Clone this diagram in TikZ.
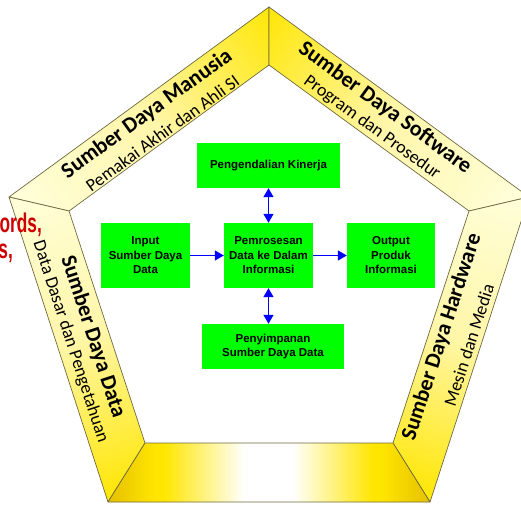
\documentclass[tikz,border=0pt]{standalone}
\usepackage{fontspec}
\setmainfont{Liberation Sans}
\newfontfamily\stripfont{Carlito}
\usetikzlibrary{arrows.meta}

\definecolor{boxgreen}{HTML}{00FF00}
\definecolor{bandyellow}{HTML}{FFE600}
\definecolor{bandlight}{HTML}{FFF6A8}
\definecolor{bandpale}{HTML}{FFFFDC}
\definecolor{bandgold}{HTML}{E6C000}
\definecolor{bandedge}{HTML}{6E6A40}
\definecolor{flowblue}{HTML}{0000FF}
\definecolor{titlered}{HTML}{D00000}

\tikzset{
  band/.style={draw=bandedge, line width=0.7pt, line join=round},
  sidefade/.style={bottom color=bandpale, top color=bandyellow, middle color=bandlight, shading angle=#1},
  striptitle/.style={font=\stripfont\fontsize{22}{24}\selectfont\bfseries, inner sep=0pt},
  stripsub/.style={font=\stripfont\fontsize{18}{20}\selectfont, inner sep=0pt},
  flowbox/.style={fill=boxgreen, draw=none, align=center, inner sep=0pt,
    font=\fontsize{11.5}{14.5}\selectfont\bfseries},
  flow/.style={draw=flowblue, line width=1.4pt, -{Triangle[length=9pt,width=10pt]}},
  flowboth/.style={draw=flowblue, line width=1.4pt, {Triangle[length=9pt,width=10pt]}-{Triangle[length=9pt,width=10pt]}},
  redtxt/.style={font=\fontsize{27}{28}\selectfont\bfseries, text=titlered, inner sep=0pt, xscale=0.64}
}

\begin{document}
\begin{tikzpicture}[x=1pt,y=1pt]
\useasboundingbox (0,0) rectangle (521,504);
\clip (0,0) rectangle (521,504);

% outer and inner corners of the pentagon frame
\coordinate (OT) at (269,497);
\coordinate (OL) at (9,307);
\coordinate (OBL) at (108,2);
\coordinate (OBR) at (430,2);
\coordinate (OR) at (529,307);
\coordinate (IT) at (269,439);
\coordinate (IL) at (69,293);
\coordinate (IBL) at (145,61);
\coordinate (IBR) at (393,61);
\coordinate (IR) at (469,293);

% upper left side
\begin{scope}
  \clip (OL) -- (OT) -- (IT) -- (IL) -- cycle;
  \shade[sidefade=-54] (154,384) circle (165);
\end{scope}
\draw[band] (OL) -- (OT) -- (IT) -- (IL) -- cycle;

% upper right side
\begin{scope}
  \clip (OT) -- (OR) -- (IR) -- (IT) -- cycle;
  \shade[sidefade=54] (384,384) circle (165);
\end{scope}
\draw[band] (OT) -- (OR) -- (IR) -- (IT) -- cycle;

% left side
\begin{scope}
  \clip (OL) -- (IL) -- (IBL) -- (OBL) -- cycle;
  \shade[sidefade=-162] (83,166) circle (165);
\end{scope}
\draw[band] (OL) -- (IL) -- (IBL) -- (OBL) -- cycle;

% right side
\begin{scope}
  \clip (OR) -- (OBR) -- (IBR) -- (IR) -- cycle;
  \shade[sidefade=-198] (455,166) circle (165);
\end{scope}
\draw[band] (OR) -- (OBR) -- (IBR) -- (IR) -- cycle;

% bottom side: gold at the corners, yellow, then white in the middle
\begin{scope}
  \clip (IBL) -- (IBR) -- (OBR) -- (OBL) -- cycle;
  \foreach \x in {108,111,...,429} {
    \pgfmathsetmacro{\u}{abs(\x+1.5-269)/161}
    \pgfmathsetmacro{\pw}{max(0,min(100,(\u-0.15)/0.5*100))}
    \pgfmathsetmacro{\pg}{max(0,min(100,(\u-0.7)/0.3*100))}
    \fill[bandgold!\pg!bandyellow!\pw!white] (\x,0) rectangle (\x+3.5,62);
  }
\end{scope}
\draw[band] (IBL) -- (IBR) -- (OBR) -- (OBL) -- cycle;

% labels on the sides
\node[striptitle, rotate=36] (manusia) at (147,390) {Sumber Daya Manusia};
\node[stripsub, rotate=36] (manusiasub) at (162.5,371) {Pemakai Akhir dan Ahli SI};
\node[striptitle, rotate=-36] (software) at (385,396) {Sumber Daya Software};
\node[stripsub, rotate=-36] (softwaresub) at (372,376.5) {Program dan Prosedur};
\node[striptitle, rotate=-72] (datares) at (93,167) {Sumber Daya Data};
\node[stripsub, rotate=-72] (dataressub) at (70.5,162) {Data Dasar dan Pengetahuan};
\node[striptitle, rotate=72] (hardware) at (442,167) {Sumber Daya Hardware};
\node[stripsub, rotate=72] (hardwaresub) at (469,159) {Mesin dan Media};

% information processing blocks
\node[flowbox, minimum width=143pt, minimum height=45pt] (control) at (268.5,338.5) {Pengendalian Kinerja};
\node[flowbox, minimum width=89pt, minimum height=65pt] (proc) at (268.5,248.5) {Pemrosesan\\Data ke Dalam\\Informasi};
\node[flowbox, minimum width=142pt, minimum height=45pt] (storage) at (273,157.5) {Penyimpanan\\Sumber Daya Data};
\node[flowbox, minimum width=89pt, minimum height=65pt] (input) at (145.5,248.5) {Input\\Sumber Daya\\Data};
\node[flowbox, minimum width=88pt, minimum height=65pt] (output) at (391,248.5) {Output\\Produk\\Informasi};

% data flow
\draw[flow] (input.east) -- (proc.west);
\draw[flow] (proc.east) -- (output.west);
\draw[flowboth] (proc.north) -- (control.south);
\draw[flowboth] (proc.south) -- (proc.south |- storage.north);

% red words at the left margin
\node[redtxt, anchor=base east] (redone) at (42,272) {ords,};
\node[redtxt, anchor=base east] (redtwo) at (13,246) {s,};
\end{tikzpicture}
\end{document}
